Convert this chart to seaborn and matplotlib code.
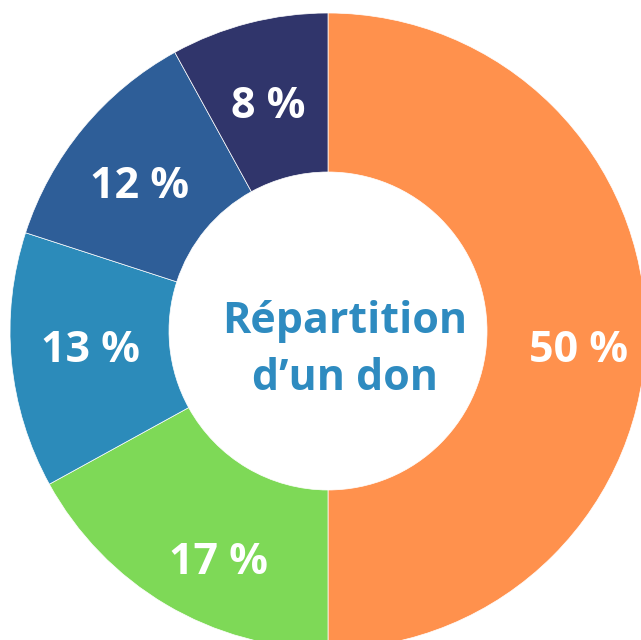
import matplotlib
matplotlib.use("Agg")
import matplotlib.pyplot as plt
import seaborn as sns

# donut: répartition d'un don
parts = [50, 17, 13, 12, 8]
labels = ["50 %", "17 %", "13 %", "12 %", "8 %"]
colors = ["#FF914D", "#7ED957", "#2C8BBA", "#2E5E98", "#30356B"]
center_text = "Répartition\nd\u2019un don"

sns.set_theme(style="white")
plt.rcParams['font.family'] = ['Open Sans', 'DejaVu Sans']

fig = plt.figure(figsize=(6.41, 6.40), dpi=100)
ax = fig.add_axes([0, 0, 1, 1])

# center of the donut sits near (328, 331) px, radius ~318 px
scale = 318

wedges, texts = ax.pie(
    parts, labels=labels, colors=colors, startangle=90, counterclock=False,
    radius=1, labeldistance=0.76,
    wedgeprops=dict(width=0.5, edgecolor="white", linewidth=0.5),
    textprops=dict(color="white", fontsize=31, fontweight="bold",
                   ha="center", va="center"),
)

# labels are hand-placed a bit off the mid angle in the original
nudges = [(9, -19), (14, -23), (3, 3), (-2, -10), (0, -10)]
for t, (dx, dy) in zip(texts, nudges):
    x, y = t.get_position()
    t.set_position((x + dx / scale, y + dy / scale))

ax.text(17 / scale, -0.06, center_text, ha="center", va="center",
        color="#2E8BC0", fontsize=31, fontweight="bold", linespacing=1.4)

ax.set_xlim(-328 / scale, (641 - 328) / scale)
ax.set_ylim(-(640 - 331) / scale, 331 / scale)
ax.set_aspect("equal")
ax.axis("off")

fig.savefig("out.png", dpi=100, facecolor="white")
